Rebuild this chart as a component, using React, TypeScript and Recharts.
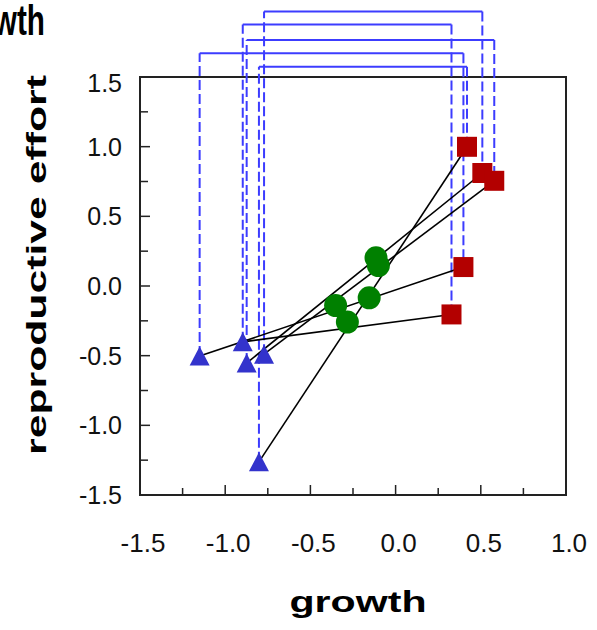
import { ComposedChart, Scatter, XAxis, YAxis, ReferenceLine, ReferenceArea, Customized } from "recharts";

const FONT = "'Liberation Sans', Arial, Helvetica, sans-serif";

// left group (triangles), middle (circles), right (squares)
const triX = [-1.15, -0.897, -0.874, -0.772, -0.802];
const triY = [-0.503, -0.401, -0.553, -0.489, -1.262];
const dotX = [-0.115, -0.101, -0.155, -0.352, -0.283];
const dotY = [0.202, 0.147, -0.085, -0.14, -0.259];
const sqX = [0.419, 0.509, 0.579, 0.398, 0.328];
const sqY = [0.999, 0.811, 0.755, 0.136, -0.204];

// black lines: triangle -> square
const lineTri = [0, 1, 2, 3, 4];
const lineSq = [3, 4, 1, 2, 0];

// blue links drawn above the frame
const linkTri = [3, 1, 2, 0, 4];
const linkSq = [1, 4, 2, 3, 0];
const linkLevel = [1.97, 1.877, 1.765, 1.67, 1.574];

const xTicks = [-1.5, -1.25, -1, -0.75, -0.5, -0.25, 0, 0.25, 0.5, 0.75, 1];
const yTicks = [-1.5, -1.25, -1, -0.75, -0.5, -0.25, 0, 0.25, 0.5, 0.75, 1, 1.25, 1.5];

const triData = triX.map((x, i) => ({ x, y: triY[i] }));
const dotData = dotX.map((x, i) => ({ x, y: dotY[i] }));
const sqData = sqX.map((x, i) => ({ x, y: sqY[i] }));

const BLUE = "#3c3cff";

const isMajor = (v: number) => Math.abs(v * 2 - Math.round(v * 2)) < 1e-6;

function XTick(props: any) {
  const { x, y, payload } = props;
  const v = payload.value as number;
  const inner = v > -1.5 && v < 1;
  return (
    <g>
      {inner && <line x1={x} y1={y} x2={x} y2={y - (isMajor(v) ? 10 : 7)} stroke="#222" strokeWidth={1.5} />}
      {isMajor(v) && (
        <text x={x + 3} y={y + 57} textAnchor="middle" fontSize={26} fontFamily={FONT} fill="#111">
          {v.toFixed(1)}
        </text>
      )}
    </g>
  );
}

function YTick(props: any) {
  const { x, y, payload } = props;
  const v = payload.value as number;
  const inner = v > -1.5 && v < 1.5;
  return (
    <g>
      {inner && <line x1={x} y1={y} x2={x + (isMajor(v) ? 10 : 8)} y2={y} stroke="#222" strokeWidth={1.5} />}
      {isMajor(v) && (
        <text x={x - 18} y={Math.max(y, 83) + 9} textAnchor="end" fontSize={25} fontFamily={FONT} fill="#111">
          {v.toFixed(1)}
        </text>
      )}
    </g>
  );
}

const Triangle = (p: any) => (
  <polygon points={`${p.cx},${p.cy - 9.5} ${p.cx + 10},${p.cy + 9.5} ${p.cx - 10},${p.cy + 9.5}`} fill="#3333cc" />
);
const Square = (p: any) => <rect x={p.cx - 10} y={p.cy - 10} width={20} height={20} fill="#b30000" />;
const Dot = (p: any) => <circle cx={p.cx} cy={p.cy} r={11.5} fill="#008000" />;

function Titles() {
  return (
    <g fontFamily={FONT} fontWeight="bold" fill="#000">
      <text x={-54} y={35} fontSize={43} textLength={99} lengthAdjust="spacingAndGlyphs">
        growth
      </text>
      <text x={358} y={612} fontSize={30} textAnchor="middle" textLength={137} lengthAdjust="spacingAndGlyphs">
        growth
      </text>
      <text
        x={46}
        y={265}
        fontSize={27}
        textAnchor="middle"
        textLength={380}
        lengthAdjust="spacingAndGlyphs"
        transform="rotate(-90, 46, 265)"
      >
        reproductive effort
      </text>
    </g>
  );
}

export default function App() {
  return (
    <div style={{ position: "absolute", left: 0, top: 0, background: "#fff" }}>
      <ComposedChart width={597} height={630} margin={{ top: 77, right: 31, bottom: 0, left: 0 }}>
        <XAxis
          type="number"
          dataKey="x"
          domain={[-1.5, 1]}
          ticks={xTicks}
          interval={0}
          tick={XTick}
          tickLine={false}
          axisLine={false}
          tickSize={0}
          tickMargin={0}
          height={135}
          allowDataOverflow
        />
        <YAxis
          type="number"
          dataKey="y"
          domain={[-1.5, 1.5]}
          ticks={yTicks}
          interval={0}
          tick={YTick}
          tickLine={false}
          axisLine={false}
          tickSize={0}
          tickMargin={0}
          width={140}
          allowDataOverflow
        />
        <ReferenceArea x1={-1.5} x2={1} y1={-1.5} y2={1.5} fill="none" stroke="#222" strokeWidth={2} />
        {linkTri.map((t, i) => {
          const s = linkSq[i];
          const lv = linkLevel[i];
          return [
            <ReferenceLine
              key={`a${i}`}
              ifOverflow="visible"
              segment={[{ x: triX[t], y: triY[t] }, { x: triX[t], y: lv }]}
              stroke={BLUE}
              strokeWidth={2}
              strokeDasharray="10 4"
            />,
            <ReferenceLine
              key={`b${i}`}
              ifOverflow="visible"
              segment={[{ x: triX[t], y: lv }, { x: sqX[s], y: lv }]}
              stroke={BLUE}
              strokeWidth={2}
            />,
            <ReferenceLine
              key={`c${i}`}
              ifOverflow="visible"
              segment={[{ x: sqX[s], y: lv }, { x: sqX[s], y: sqY[s] }]}
              stroke={BLUE}
              strokeWidth={2}
              strokeDasharray="10 4"
            />,
          ];
        })}
        {lineTri.map((t, i) => (
          <ReferenceLine
            key={`l${i}`}
            ifOverflow="visible"
            segment={[{ x: triX[t], y: triY[t] }, { x: sqX[lineSq[i]], y: sqY[lineSq[i]] }]}
            stroke="#000"
            strokeWidth={1.6}
          />
        ))}
        <Scatter data={triData} shape={Triangle} isAnimationActive={false} />
        <Scatter data={dotData} shape={Dot} isAnimationActive={false} />
        <Scatter data={sqData} shape={Square} isAnimationActive={false} />
        <Customized component={Titles} />
      </ComposedChart>
    </div>
  );
}
